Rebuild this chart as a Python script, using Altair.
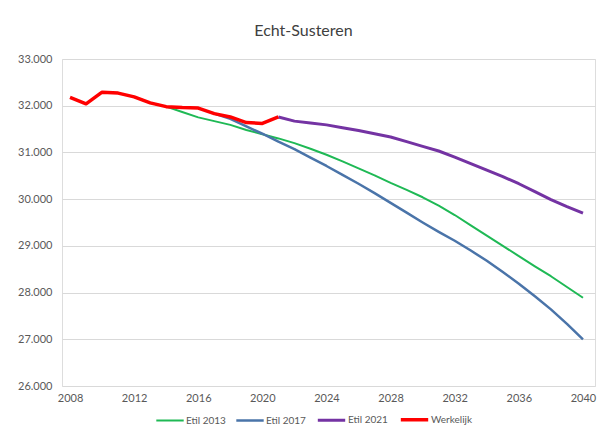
import altair as alt
import pandas as pd

years_werkelijk = list(range(2008, 2022))
werkelijk = [32180, 32040, 32290, 32270, 32190, 32060, 31980, 31960, 31950, 31830, 31760, 31640, 31620, 31760]

years_2013 = list(range(2013, 2041))
etil_2013 = [32060, 31980, 31865, 31750, 31670, 31590, 31480, 31390, 31300, 31200, 31080, 30950, 30810, 30660,
             30510, 30350, 30200, 30040, 29860, 29660, 29440, 29220, 29000, 28780, 28560, 28350, 28120, 27890]

years_2017 = list(range(2017, 2041))
etil_2017 = [31830, 31720, 31560, 31400, 31230, 31070, 30890, 30710, 30520, 30330, 30130, 29920, 29710, 29500,
             29300, 29110, 28900, 28680, 28440, 28190, 27920, 27640, 27330, 27000]

years_2021 = list(range(2021, 2041))
etil_2021 = [31760, 31670, 31630, 31590, 31530, 31470, 31400, 31330, 31230, 31130, 31030, 30900, 30760, 30620,
             30480, 30330, 30160, 29990, 29840, 29700]

series_names = ["Etil 2013", "Etil 2017", "Etil 2021", "Werkelijk"]
series_colors = ["#1fb955", "#4a74a9", "#7433a3", "#ff0000"]
series_widths = [2, 3.5, 3.5, 3]
x_ticks = list(range(2008, 2041, 4))

rows = []
for name, ys, vs in [("Etil 2013", years_2013, etil_2013), ("Etil 2017", years_2017, etil_2017),
                     ("Etil 2021", years_2021, etil_2021), ("Werkelijk", years_werkelijk, werkelijk)]:
    for y, v in zip(ys, vs):
        rows.append({"jaar": y, "inwoners": v, "reeks": name, "orde": series_names.index(name)})
df = pd.DataFrame(rows)

FONT = "Lato"

chart = alt.Chart(df).mark_line(strokeJoin="round", strokeCap="butt").encode(
    x=alt.X("jaar:Q", scale=alt.Scale(domain=[2007.5, 2040.75], nice=False, zero=False),
            axis=alt.Axis(values=x_ticks, format="d", title=None, grid=False, domain=False, ticks=False,
                          labelPadding=6, labelFontSize=11, labelColor="#595959", labelFont=FONT)),
    y=alt.Y("inwoners:Q", scale=alt.Scale(domain=[26000, 33000], nice=False, zero=False),
            axis=alt.Axis(values=list(range(26000, 33001, 1000)), title=None, domain=False, ticks=False,
                          labelExpr="replace(format(datum.value, ',.0f'), ',', '.')",
                          labelPadding=10, labelFontSize=11, labelColor="#595959", labelFont=FONT,
                          gridColor="#d9d9d9", gridWidth=1)),
    color=alt.Color("reeks:N", scale=alt.Scale(domain=series_names, range=series_colors),
                    legend=alt.Legend(title=None, orient="none", legendX=93, legendY=345, direction="horizontal",
                                      symbolType="stroke", symbolSize=750, symbolStrokeWidth=3,
                                      labelFontSize=10, labelColor="#595959", labelFont=FONT,
                                      labelOffset=1, columnPadding=5)),
    strokeWidth=alt.StrokeWidth("reeks:N", scale=alt.Scale(domain=series_names, range=series_widths), legend=None),
    order=alt.Order("orde:Q"),
    detail="reeks:N",
).properties(
    width=533, height=327,
    autosize=alt.AutoSizeParams(type="none"),
    padding={"left": 54, "top": 51, "right": 2, "bottom": 50},
    title=alt.TitleParams("Echt-Susteren", fontSize=16, font=FONT, fontWeight="normal", color="#404040",
                          anchor="middle", dx=-25, offset=14),
).configure_view(stroke=None).configure(background="white")

chart.save("out.html", embed_options={"renderer": "svg", "actions": False})
